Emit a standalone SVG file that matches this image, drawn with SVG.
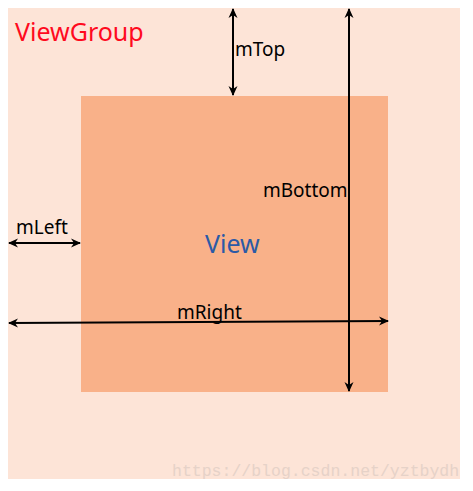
<svg xmlns="http://www.w3.org/2000/svg" width="473" height="491" viewBox="0 0 473 491">
<defs>
<style>
.lbl{font-family:"Noto Sans","Liberation Sans",sans-serif;font-size:19px;fill:#000}
.ln{stroke:#000;stroke-width:2;fill:none}
</style>
<marker id="ah" viewBox="0 0 10 10" refX="9" refY="5" markerWidth="10" markerHeight="10" orient="auto-start-reverse" markerUnits="userSpaceOnUse">
<path d="M0,0.5 L10,5 L0,9.5 L3,5 Z" fill="#000"/>
</marker>
</defs>
<rect width="473" height="491" fill="#fff"/>
<g id="viewgroup">
<rect x="8" y="8" width="452" height="471" fill="#fde4d7"/>
<text x="15" y="41" font-family="Noto Sans, Liberation Sans, sans-serif" font-size="25" fill="#ff0a1e">ViewGroup</text>
</g>
<g id="view">
<rect x="81" y="96" width="307" height="296" fill="#f9b189"/>
<text x="205" y="253" font-family="Noto Sans, Liberation Sans, sans-serif" font-size="25" fill="#2b5aa6">View</text>
</g>
<g id="connectors">
<line class="ln" x1="233" y1="9" x2="233" y2="95" marker-start="url(#ah)" marker-end="url(#ah)"/>
<line class="ln" x1="349" y1="9" x2="349" y2="391" marker-start="url(#ah)" marker-end="url(#ah)"/>
<line class="ln" x1="9" y1="243" x2="80" y2="243" marker-start="url(#ah)" marker-end="url(#ah)"/>
<line class="ln" x1="9" y1="323" x2="388" y2="321" marker-start="url(#ah)" marker-end="url(#ah)"/>
</g>
<g id="labels">
<text class="lbl" x="235" y="56">mTop</text>
<text class="lbl" x="263" y="197">mBottom</text>
<text class="lbl" x="16" y="234">mLeft</text>
<text class="lbl" x="177" y="319">mRight</text>
</g>
<text x="172" y="476" font-family="Liberation Mono, monospace" font-size="16.5" fill="#e6d2c8">https://blog.csdn.net/yztbydh</text>
</svg>
